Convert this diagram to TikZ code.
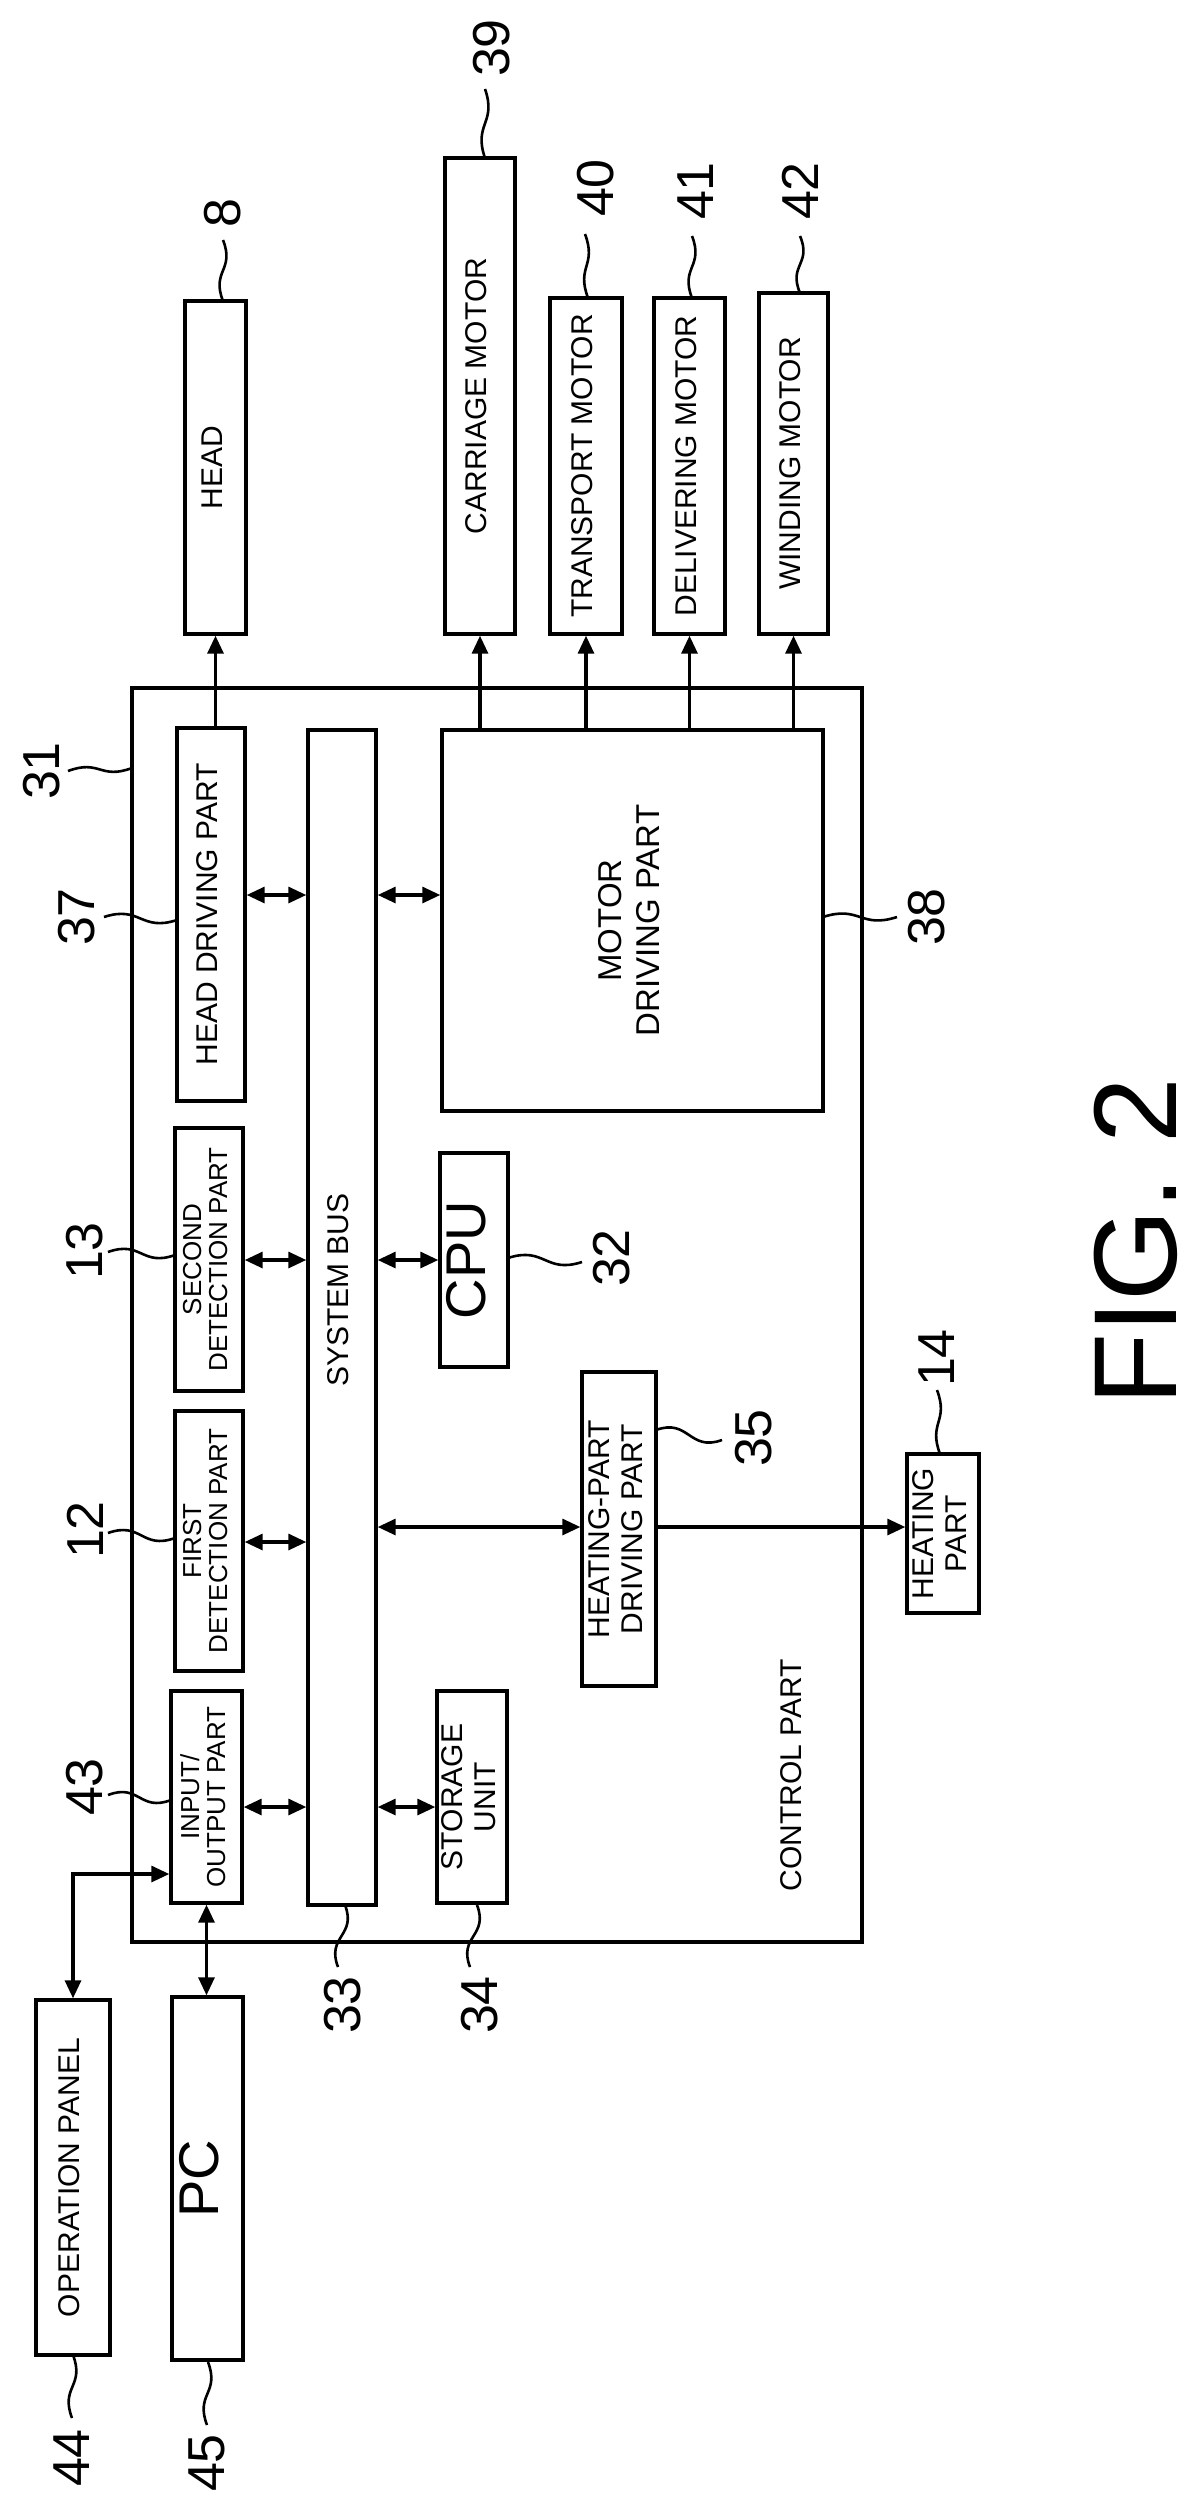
\documentclass[tikz,border=0pt]{standalone}
\usepackage{fontspec}
\setmainfont{Liberation Sans}
\usetikzlibrary{arrows.meta,calc}
\begin{document}
\begin{tikzpicture}[x=1pt,y=-1pt,
  box/.style={draw,line width=3.4pt,inner sep=0pt,align=center},
  arr/.style={line width=3.2pt,-{Triangle[length=18pt,width=16pt]}},
  darr/.style={line width=3.2pt,{Triangle[length=18pt,width=16pt]}-{Triangle[length=18pt,width=16pt]}},
  lead/.style={line width=2.6pt},
  num/.style={inner sep=0pt,font=\fontsize{52}{52}\selectfont,rotate=90},
  bt/.style={font=\fontsize{30}{33}\selectfont},
  st/.style={font=\fontsize{26}{26}\selectfont}]
\useasboundingbox (0,0) rectangle (1202,2515);
\newcommand{\rt}[1]{\rotatebox{90}{\begin{tabular}{@{}c@{}}#1\end{tabular}}}
% boxes
\node[box,minimum width=61pt,minimum height=333pt,bt] (head) at (215.5,467.5) {\rt{HEAD}};
\node[box,minimum width=70pt,minimum height=476pt,bt] (carriage) at (480,396) {\rt{CARRIAGE MOTOR}};
\node[box,minimum width=72pt,minimum height=336pt,bt] (transport) at (586,466) {\rt{TRANSPORT MOTOR}};
\node[box,minimum width=71pt,minimum height=336pt,bt] (delivering) at (689.5,466) {\rt{DELIVERING MOTOR}};
\node[box,minimum width=69pt,minimum height=341pt,bt] (winding) at (793.5,463.5) {\rt{WINDING MOTOR}};
\node[box,minimum width=730pt,minimum height=1254pt] (control) at (497,1315) {};
\node[bt] (ctext) at (795,1775) {\rt{CONTROL PART}};
\node[box,minimum width=68pt,minimum height=373pt,bt] (headdrv) at (211,914.5) {\rt{HEAD DRIVING PART}};
\node[box,minimum width=68pt,minimum height=1175pt] (bus) at (342,1317.5) {};
\node[bt] (bustext) at (342,1290) {\rt{SYSTEM BUS}};
\node[box,minimum width=381pt,minimum height=381pt,font=\fontsize{33}{38}\selectfont] (motordrv) at (632.5,920.5) {\rt{MOTOR\\DRIVING PART}};
\node[box,minimum width=68pt,minimum height=263pt,st] (second) at (209,1259.5) {\rt{SECOND\\DETECTION PART}};
\node[box,minimum width=68pt,minimum height=260pt,st] (first) at (209,1541) {\rt{FIRST\\DETECTION PART}};
\node[box,minimum width=71pt,minimum height=212pt,st] (io) at (206.5,1797) {\rt{INPUT/\\OUTPUT PART}};
\node[box,minimum width=68pt,minimum height=214pt,font=\fontsize{56}{56}\selectfont] (cpu) at (474,1260) {\rt{CPU}};
\node[box,minimum width=70pt,minimum height=212pt,bt] (storage) at (472,1797) {\rt{STORAGE\\UNIT}};
\node[box,minimum width=74pt,minimum height=314pt,bt] (hpdp) at (619,1529) {\rt{HEATING-PART\\DRIVING PART}};
\node[box,minimum width=72pt,minimum height=159pt,bt] (heating) at (943,1533.5) {\rt{HEATING\\PART}};
\node[box,minimum width=74pt,minimum height=355pt,bt] (oppanel) at (73,2177.5) {\rt{OPERATION PANEL}};
\node[box,minimum width=71pt,minimum height=363pt,font=\fontsize{56}{56}\selectfont] (pc) at (207.5,2178.5) {\rt{PC}};
\node[inner sep=0pt,font=\fontsize{118}{118}\selectfont] (fig) at (1136,1242) {\rotatebox{90}{FIG. 2}};
% arrows
\draw[arr] (headdrv.north -| head.south) -- (head.south);
\foreach \m in {carriage,transport,delivering,winding}
  \draw[arr] (motordrv.north -| \m.south) -- (\m.south);
\coordinate (ya) at (0,895);
\coordinate (yb) at (0,1260);
\coordinate (yc) at (0,1542);
\coordinate (yd) at (0,1527);
\coordinate (ye) at (0,1807);
\coordinate (yf) at (0,1874);
\draw[darr] (headdrv.east |- ya) -- (bus.west |- ya);
\draw[darr] (bus.east |- ya) -- (motordrv.west |- ya);
\draw[darr] (second.east |- yb) -- (bus.west |- yb);
\draw[darr] (bus.east |- yb) -- (cpu.west |- yb);
\draw[darr] (first.east |- yc) -- (bus.west |- yc);
\draw[darr] (bus.east |- yd) -- (hpdp.west |- yd);
\draw[arr] (hpdp.east |- yd) -- (heating.west |- yd);
\draw[darr] (io.east |- ye) -- (bus.west |- ye);
\draw[darr] (bus.east |- ye) -- (storage.west |- ye);
\draw[darr] (io.south) -- (io.south |- pc.north);
\draw[darr] (io.west |- yf) -- (oppanel.north |- yf) -- (oppanel.north);
% labels
\node[num] (l8) at (223,213) {8};
\node[num] (l39) at (492,48) {39};
\node[num] (l40) at (596,188) {40};
\node[num] (l41) at (696,191) {41};
\node[num] (l42) at (800,191) {42};
\node[num] (l31) at (42,771) {31};
\node[num] (l37) at (77,917) {37};
\node[num] (l38) at (927,917) {38};
\node[num] (l13) at (85,1251) {13};
\node[num] (l12) at (85,1530) {12};
\node[num] (l43) at (85,1787) {43};
\node[num] (l32) at (612,1258) {32};
\node[num] (l35) at (754,1438) {35};
\node[num] (l14) at (937,1358) {14};
\node[num] (l33) at (343,2005) {33};
\node[num] (l34) at (480,2005) {34};
\node[num] (l44) at (72,2458) {44};
\node[num] (l45) at (207,2463) {45};
% leaders
\newcommand{\vlead}[4]{\draw[lead] (#1,#2) .. controls (#1+12,#2/2+#4/2) and (#3-12,#2/2+#4/2) .. (#3,#4);}
\newcommand{\hlead}[4]{\draw[lead] (#1,#2) .. controls (#1/2+#3/2,#2-12) and (#1/2+#3/2,#4+12) .. (#3,#4);}
\vlead{223}{240}{223}{301}
\vlead{485}{89}{485}{158}
\vlead{585}{234}{588}{298}
\vlead{692}{236}{692}{298}
\vlead{800}{236}{800}{293}
\vlead{937}{1390}{940}{1454}
\vlead{345}{1905}{338}{1967}
\vlead{477}{1905}{470}{1967}
\vlead{73}{2355}{72}{2418}
\vlead{208}{2362}{207}{2425}
\hlead{68}{771}{132}{768}
\hlead{104}{917}{177}{920}
\hlead{823}{917}{897}{917}
\hlead{108}{1252}{175}{1255}
\hlead{108}{1533}{175}{1538}
\hlead{108}{1795}{171}{1800}
\hlead{508}{1258}{582}{1262}
\hlead{656}{1430}{722}{1440}
\end{tikzpicture}
\end{document}
